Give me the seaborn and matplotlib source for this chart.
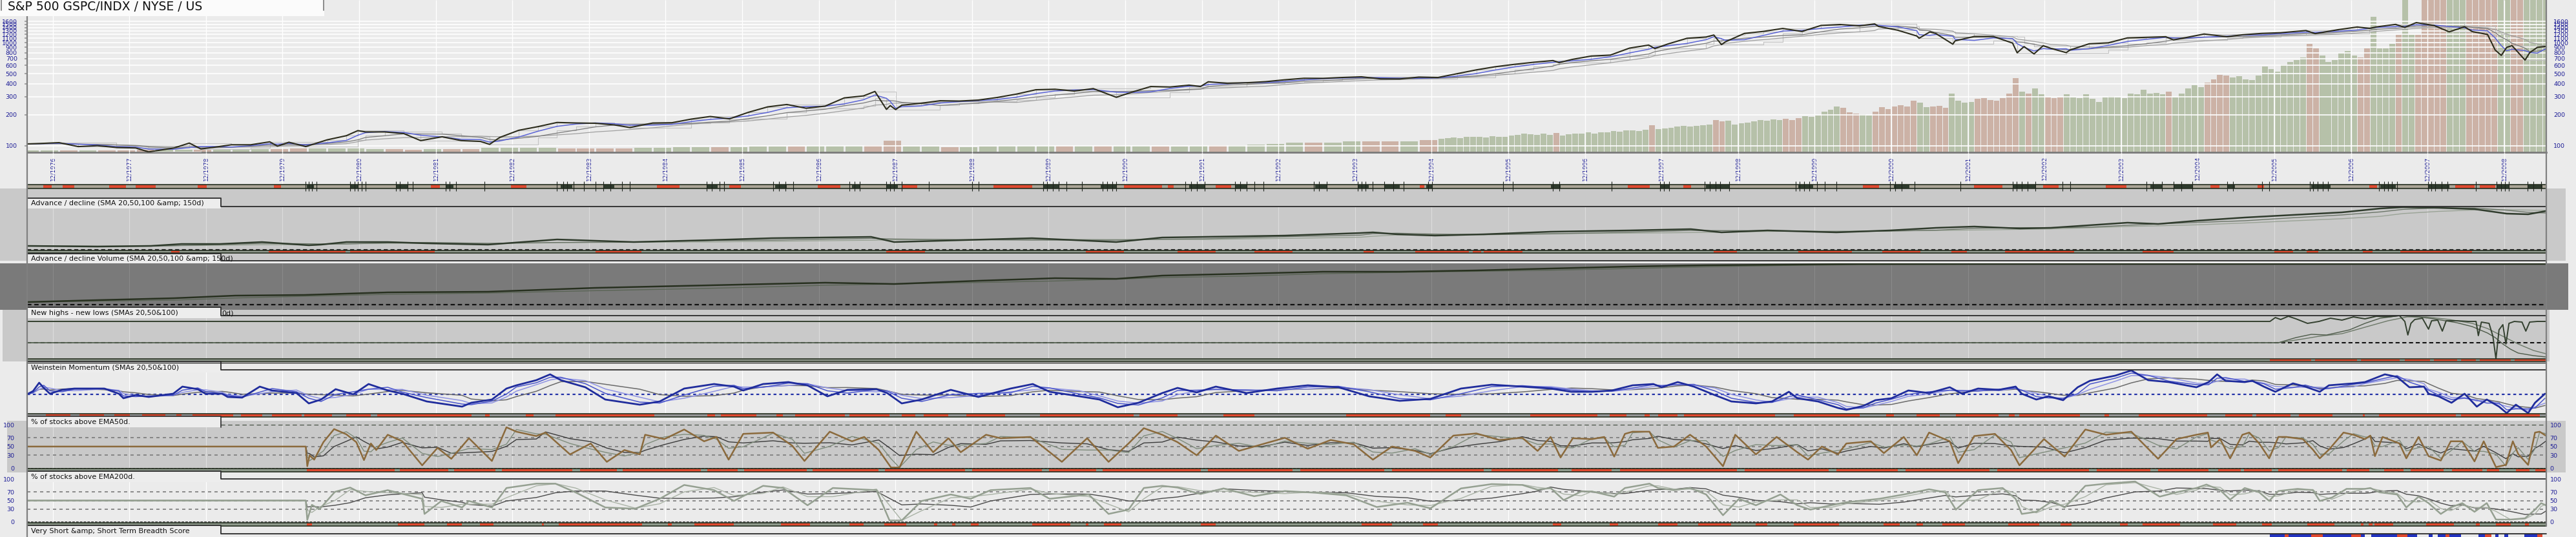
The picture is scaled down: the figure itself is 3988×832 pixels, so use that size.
import numpy as np
import pandas as pd
import matplotlib
matplotlib.use("Agg")
import matplotlib.pyplot as plt
import seaborn as sns
from matplotlib.patches import Rectangle
from matplotlib.lines import Line2D
from matplotlib.ticker import FixedLocator, FixedFormatter, NullLocator

sns.set_theme(style="white")
plt.rcParams["font.family"] = ["DejaVu Sans"]

# ---------------- data ----------------
title = "S&P 500 GSPC/INDX / NYSE / US"
lbl_ad = "Advance / decline (SMA 20,50,100 &amp; 150d)"
lbl_adv = "Advance / decline Volume (SMA 20,50,100 &amp; 150d)"
lbl_nh = "New highs - new lows (SMAs 20,50&100)"
lbl_wm = "Weinstein Momentum (SMAs 20,50&100)"
lbl_e50 = "% of stocks above EMA50d."
lbl_e200 = "% of stocks above EMA200d."
lbl_bs = "Very Short &amp; Short Term Breadth Score"

x_start, x_end = 1976.583, 2009.467
tick_years = list(range(1976, 2009))
tick_labels = [f"12/{y}" for y in tick_years]
price_ticks = [100, 200, 300, 400, 500, 600, 700, 800, 900, 1000, 1100, 1200, 1300, 1400, 1500, 1600]
pct_ticks = [100, 70, 50, 30, 0]

price_t = [1976.58,1976.75,1977.00,1977.25,1977.50,1977.75,1978.00,1978.17,1978.50,1978.70,1978.85,1979.00,1979.25,1979.50,1979.75,1979.85,1980.00,1980.22,1980.50,1980.75,1980.90,1981.00,1981.25,1981.50,1981.72,1982.00,1982.25,1982.50,1982.62,1982.75,1983.00,1983.25,1983.50,1983.75,1984.00,1984.25,1984.45,1984.75,1985.00,1985.25,1985.50,1985.75,1986.00,1986.25,1986.50,1986.75,1987.00,1987.25,1987.50,1987.65,1987.80,1987.85,1987.92,1988.00,1988.25,1988.50,1988.75,1989.00,1989.25,1989.50,1989.75,1990.00,1990.25,1990.50,1990.80,1991.00,1991.25,1991.50,1991.75,1991.90,1992.00,1992.25,1992.50,1992.75,1993.00,1993.25,1993.50,1993.75,1994.00,1994.25,1994.50,1994.75,1995.00,1995.25,1995.50,1995.75,1996.00,1996.25,1996.50,1996.58,1996.75,1997.00,1997.25,1997.50,1997.75,1997.83,1998.00,1998.25,1998.50,1998.60,1998.70,1998.75,1999.00,1999.25,1999.50,1999.75,2000.00,2000.25,2000.50,2000.70,2000.75,2001.00,2001.25,2001.28,2001.42,2001.50,2001.72,2001.75,2002.00,2002.25,2002.50,2002.56,2002.65,2002.78,2002.90,2003.00,2003.20,2003.25,2003.50,2003.75,2004.00,2004.25,2004.50,2004.60,2004.75,2005.00,2005.30,2005.50,2005.75,2006.00,2006.33,2006.45,2006.75,2007.00,2007.16,2007.25,2007.50,2007.62,2007.77,2008.00,2008.20,2008.40,2008.50,2008.70,2008.80,2008.88,2008.95,2009.02,2009.19,2009.25,2009.35,2009.46]
price_v = [104,105,107,98,100,96,95,87,95,106,93,96,102,102,109,99,108,98,114,125,140,136,136,131,112,122,112,110,103,120,141,153,168,166,165,159,150,166,167,181,192,182,211,238,251,231,242,291,304,336,225,245,224,247,258,273,271,277,294,317,349,353,339,358,295,330,375,371,387,375,417,403,408,418,436,451,450,459,466,445,444,463,459,500,544,584,616,645,670,640,687,741,757,885,947,876,970,1102,1134,1186,957,1017,1229,1286,1373,1283,1469,1499,1455,1520,1436,1320,1160,1103,1270,1224,966,1041,1148,1147,990,797,916,777,935,880,800,848,975,996,1112,1126,1141,1063,1115,1212,1142,1191,1229,1248,1310,1223,1336,1418,1374,1421,1503,1406,1565,1468,1273,1426,1280,1200,848,752,900,935,677,798,900,919]

# volume (billions of shares/day): quarterly from Q3 1976 to Q4 1994, then monthly from Jan 1995
volq_first = 1976.5
volq_v = [0.05,0.05,
          0.05,0.05,0.05,0.05, 0.06,0.06,0.06,0.06, 0.06,0.06,0.07,0.07, 0.08,0.08,0.08,0.09,
          0.07,0.07,0.06,0.07, 0.07,0.07,0.10,0.10, 0.10,0.10,0.09,0.09, 0.09,0.09,0.10,0.10,
          0.11,0.11,0.11,0.12, 0.13,0.13,0.13,0.14, 0.15,0.15,0.16,0.26, 0.13,0.13,0.12,0.12,
          0.13,0.14,0.14,0.15, 0.14,0.14,0.14,0.15, 0.14,0.13,0.13,0.15, 0.16,0.16,0.17,0.19,
          0.21,0.21,0.22,0.24, 0.25,0.24,0.25,0.27]
volm_first = 1995.0
volm_v = [.30,.31,.33,.32,.34,.35,.34,.33,.36,.35,.35,.37,
          .38,.41,.40,.39,.42,.38,.43,.37,.40,.42,.41,.44,
          .42,.45,.44,.47,.46,.49,.48,.47,.50,.60,.52,.53,
          .55,.57,.58,.57,.59,.60,.62,.72,.68,.70,.62,.64,
          .66,.68,.72,.70,.73,.72,.74,.71,.76,.80,.78,.82,
          .90,.95,1.02,.98,.88,.86,.84,.82,.90,1.00,.96,1.02,
          1.05,1.02,1.15,1.10,1.00,1.02,1.03,.98,1.30,1.15,1.10,1.12,
          1.18,1.20,1.16,1.15,1.20,1.30,1.65,1.35,1.30,1.42,1.28,1.22,
          1.20,1.22,1.28,1.22,1.20,1.28,1.18,1.12,1.22,1.25,1.22,1.20,
          1.30,1.28,1.38,1.30,1.32,1.28,1.35,1.22,1.30,1.42,1.48,1.45,
          1.55,1.62,1.72,1.70,1.66,1.68,1.62,1.60,1.70,1.90,1.85,1.78,
          1.95,2.00,2.05,2.10,2.40,2.30,2.15,2.00,2.05,2.20,2.25,2.15,
          2.10,2.30,3.00,2.30,2.30,2.40,2.60,3.60,2.60,2.60,3.50,3.40,
          3.80,3.60,4.00,3.50,3.50,3.80,4.20,3.60,4.50,5.00,4.50,4.00,
          4.50,4.50,5.00,4.50,4.50,4.00]

ad_t = [1976.58,1977.5,1978.2,1978.6,1979.1,1979.65,1980.26,1980.42,1980.75,1981.29,1981.8,1982.6,1983.5,1984.5,1985.5,1986.3,1987.6,1987.9,1988.8,1989.7,1990.8,1991.4,1991.95,1993.0,1993.99,1994.15,1994.47,1994.96,1995.6,1996.47,1997.5,1998.3,1998.7,1999.3,2000.2,2000.9,2001.5,2002.0,2002.6,2003.0,2003.5,2004.0,2004.4,2004.9,2005.53,2006.16,2006.8,2007.3,2007.6,2008.06,2008.53,2008.95,2009.23,2009.46]
ad_v = [6,5,6,9,9,12,7,8,12,12,10,8,16,12,15,18,20,12,15,18,12,19,20,22,26,27,24,22,24,28,30,32,27,30,27,30,34,36,33,34,38,42,40,45,50,54,58,64,66,65,63,56,55,60]

adv_t = [1976.58,1977.5,1978.5,1979.3,1980.2,1981.29,1982.6,1984.0,1985.5,1987.0,1987.9,1989.0,1990.0,1990.8,1991.4,1992.5,1993.5,1994.5,1995.5,1996.47,1997.5,1998.5,1999.5,2000.5,2002.0,2004.0,2007.0,2009.46]
adv_v = [4,7,10,14,15,19,20,26,30,34,32,37,41,40,45,48,51,51,53,56,59,61,62,63,63,63,63,63]

nh_t = [1976.58,2005.86,2005.93,2006.00,2006.10,2006.20,2006.35,2006.50,2006.65,2006.80,2006.95,2007.10,2007.25,2007.40,2007.55,2007.62,2007.66,2007.70,2007.75,2007.85,2007.93,2007.97,2008.05,2008.11,2008.16,2008.30,2008.45,2008.55,2008.58,2008.62,2008.72,2008.77,2008.81,2008.85,2008.90,2008.94,2008.98,2009.05,2009.15,2009.20,2009.25,2009.35,2009.46]
nh_v = [33,33,39,36,41,37,30,33,38,35,40,37,41,40,42,33,12,30,36,38,21,34,35,18,34,34,33,33,11,32,30,10,-25,20,28,-2,30,33,32,18,32,33,33]
nhf_t = [1976.58,2005.97,2006.20,2006.40,2006.60,2006.90,2007.10,2007.30,2007.55,2007.80,2008.00,2008.30,2008.50,2008.70,2008.80,2008.90,2009.00,2009.10,2009.30,2009.46]
nhf_v = [0,0,8,13,12,20,30,38,42,40,37,31,25,15,8,-2,-10,-16,-20,-22]
nhs_t = [1976.58,2005.97,2006.30,2006.50,2006.80,2007.10,2007.40,2007.65,2007.90,2008.20,2008.50,2008.70,2008.90,2009.10,2009.30,2009.46]
nhs_v = [0,0,6,10,14,24,34,40,40,36,30,22,10,-2,-12,-17]

wm_t = [1976.58,1976.66,1976.74,1976.80,1976.88,1977.04,1977.20,1977.59,1977.78,1977.84,1978.00,1978.17,1978.49,1978.61,1978.81,1978.91,1979.13,1979.20,1979.39,1979.62,1979.78,1980.10,1980.26,1980.42,1980.61,1980.84,1981.04,1981.29,
        1981.48,1981.80,1982.26,1982.38,1982.65,1982.84,1982.97,1983.23,1983.41,1983.55,1983.87,1984.13,1984.58,1984.84,1985.16,1985.55,1985.81,1985.93,1986.19,1986.52,1986.77,1987.03,1987.29,1987.67,1987.81,1988.00,1988.26,1988.64,1989.00,1989.42,1989.71,1989.93,1990.32,1990.58,1990.82,1991.09,1991.40,
        1991.60,1991.85,1992.10,1992.50,1992.90,1993.30,1993.70,1994.10,1994.50,1994.90,1995.30,1995.70,1996.10,
        1996.47,1996.74,1997.01,1997.27,1997.54,1997.81,1997.92,1998.13,1998.34,1998.61,1998.83,1999.15,1999.36,1999.58,1999.69,1999.96,2000.22,2000.33,2000.55,2000.71,2000.92,2001.14,2001.41,2001.68,2001.84,2002.05,2002.32,2002.54,2002.62,2002.81,2002.97,2003.16,2003.35,2003.51,2003.84,2004.05,2004.27,2004.54,2004.90,
        2005.06,2005.17,2005.28,2005.53,2005.63,2005.78,2005.93,2006.16,2006.32,2006.51,2006.63,2006.95,2007.10,2007.36,2007.52,2007.68,2007.87,2007.93,2008.06,2008.23,2008.40,2008.56,2008.69,2008.85,2008.95,2009.07,2009.23,2009.32,2009.45]
wm_v = [0,5,18,10,1,7,9,9,1,-6,-1,-4,1,12,8,1,1,-4,-5,12,6,2,-14,-8,8,0,16,6,
        1,-11,-19,-13,-8,9,14,22,31,22,11,-8,-16,-11,9,16,12,6,16,19,14,-3,7,8,2,-14,-8,7,-4,9,16,4,-3,-8,-20,-13,2,
        10,3,12,2,9,14,11,-3,-10,-7,9,15,12,
        9,4,4,6,14,16,11,19,12,-1,-11,-14,-11,4,-6,-11,-21,-24,-18,-9,-6,6,2,11,1,9,7,12,1,-8,-3,-9,11,21,29,37,22,19,11,
        19,31,21,19,21,12,4,17,12,4,14,17,19,31,27,11,12,1,-3,-13,1,-19,-8,-19,-29,-16,-29,-13,1]

e50_t = [1976.58,1980.22,1980.24,1980.27,1980.33,1980.45,1980.59,1980.75,1980.88,1980.98,1981.07,1981.14,1981.29,
         1981.48,1981.74,1981.94,1982.12,1982.35,1982.65,1982.84,1982.97,1983.23,1983.35,1983.67,1983.94,1984.15,1984.38,1984.58,1984.65,1984.90,1985.16,1985.42,1985.58,1985.74,1985.93,1986.32,1986.57,1986.73,1987.06,1987.35,1987.51,1987.70,1987.86,1987.97,1988.19,1988.41,1988.61,1988.77,1989.10,1989.29,1989.68,1990.09,1990.42,1990.70,1990.96,1991.16,1991.40,
         1991.60,1991.85,1992.10,1992.40,1992.70,1993.00,1993.30,1993.60,1993.90,1994.15,1994.40,1994.70,1994.90,1995.20,1995.50,1995.80,1996.10,1996.30,
         1996.47,1996.60,1996.76,1997.01,1997.17,1997.30,1997.44,1997.54,1997.76,1997.87,1998.08,1998.29,1998.50,1998.72,1998.88,1999.15,1999.42,1999.69,1999.83,2000.01,2000.22,2000.33,2000.65,2000.82,2001.08,2001.25,2001.41,2001.68,2001.79,2002.00,2002.27,2002.48,2002.59,2002.91,2003.18,2003.45,2003.72,2004.05,2004.40,2004.64,2004.90,
         2005.05,2005.09,2005.21,2005.34,2005.50,2005.59,2005.72,2005.85,2005.97,2006.07,2006.29,2006.42,2006.51,2006.63,2006.82,2006.95,2007.10,2007.17,2007.23,2007.33,2007.55,2007.64,2007.80,2007.93,2008.09,2008.22,2008.37,2008.53,2008.65,2008.81,2008.94,2009.03,2009.10,2009.23,2009.32,2009.38,2009.46]
e50_v = [50,50,5,30,20,60,90,78,60,19,57,42,77,
         62,7,47,22,69,17,94,84,74,82,32,57,15,42,32,77,67,89,62,72,20,79,82,52,17,84,62,72,42,2,2,84,37,69,37,77,69,72,15,69,15,57,92,77,
         60,30,75,40,55,70,45,65,55,20,50,40,25,75,80,65,70,40,
         72,25,69,67,72,27,79,84,84,47,50,77,50,5,77,32,72,37,20,50,32,57,62,35,72,30,82,62,12,74,79,42,7,67,27,89,77,84,22,67,77,
         82,48,67,23,77,82,57,23,72,72,67,43,23,43,82,77,67,75,28,72,57,23,72,28,18,62,62,16,62,3,8,62,33,8,82,84,75]

e200_t = [1976.58,1980.22,1980.24,1980.30,1980.40,1980.60,1980.80,1981.00,1981.29,
          1981.74,1981.77,1981.99,1982.26,1982.35,1982.65,1982.84,1983.23,1983.48,1983.74,1984.13,1984.52,1984.84,1985.16,1985.55,1985.81,1986.19,1986.45,1986.77,1987.10,1987.67,1987.84,1988.00,1988.26,1988.64,1988.90,1989.16,1989.68,1989.93,1990.44,1990.70,1990.96,1991.16,1991.40,
          1991.60,1991.90,1992.20,1992.60,1993.00,1993.40,1993.80,1994.20,1994.60,1994.90,1995.30,1995.70,1996.10,1996.30,
          1996.47,1996.64,1996.87,1997.01,1997.30,1997.44,1997.76,1997.87,1998.08,1998.29,1998.50,1998.72,1998.93,1999.15,1999.47,1999.69,1999.86,2000.13,2000.33,2000.76,2001.08,2001.41,2001.62,2001.76,2002.05,2002.37,2002.54,2002.62,2002.81,2003.02,2003.18,2003.45,2003.72,2004.10,2004.42,2004.64,2004.90,
          2005.03,2005.21,2005.34,2005.53,2005.72,2005.85,2005.97,2006.22,2006.42,2006.51,2006.67,2006.86,2007.10,2007.17,2007.29,2007.52,2007.64,2007.80,2007.93,2008.09,2008.22,2008.37,2008.53,2008.69,2008.81,2009.00,2009.19,2009.32,2009.40,2009.46]
e200_v = [50,50,5,40,30,70,80,62,74,
          54,19,49,34,49,34,79,89,89,69,34,31,54,86,74,49,84,79,39,79,74,4,4,49,64,54,74,79,54,64,19,29,79,84,
          80,65,78,60,72,68,62,35,45,32,78,88,86,75,
          79,51,71,71,59,79,89,79,74,79,64,16,54,39,64,39,29,39,46,54,64,76,69,29,74,79,54,19,24,49,34,84,89,94,59,69,79,
          87,74,52,79,69,49,72,77,74,49,57,77,77,79,69,64,34,59,44,19,34,44,24,44,6,6,9,29,44,39]

# signal strips (intervals in decimal years)
price_red = [(1976.79,1976.90),(1977.05,1977.20),(1977.65,1977.87),(1978.00,1978.26),(1978.81,1978.93),(1979.80,1979.90),(1981.85,1981.97),(1982.90,1983.10),(1984.80,1985.10),(1985.75,1985.90),(1986.90,1987.20),(1988.00,1988.20),(1989.20,1989.70),(1990.90,1991.40),(1991.47,1991.55),(1992.10,1992.30),(1994.76,1994.82),(1997.48,1997.76),(1998.20,1998.30),(2000.55,2000.76),(2002.00,2002.37),(2002.90,2003.10),(2003.72,2003.99),(2005.08,2005.20),(2005.70,2005.78),(2007.16,2007.26),(2008.28,2008.53),(2008.60,2008.80)]
price_dark = [(1980.23,1980.33),(1980.80,1980.90),(1981.40,1981.55),(1982.05,1982.15),(1983.55,1983.70),(1984.10,1984.25),(1985.45,1985.60),(1986.35,1986.50),(1987.35,1987.45),(1987.80,1987.95),(1989.85,1990.05),(1990.60,1990.80),(1991.75,1991.95),(1992.35,1992.50),(1993.40,1993.55),(1993.95,1994.10),(1994.30,1994.50),(1994.85,1994.93),(1996.47,1996.60),(1997.90,1998.02),(1998.50,1998.80),(1999.70,1999.90),(2000.95,2001.15),(2002.50,2002.80),(2004.30,2004.45),(2004.60,2004.85),(2005.30,2005.40),(2006.40,2006.65),(2007.30,2007.50),(2007.92,2008.20),(2008.82,2008.98),(2009.22,2009.42)]
price_marks = [1980.22,1980.26,1980.30,1980.36,1980.80,1980.86,1980.90,1980.95,1981.00,1981.40,1981.45,1981.55,1981.62,1982.05,1982.10,1982.18,1982.55,1983.50,1983.58,1983.63,1983.72,1983.85,1984.00,1984.10,1984.20,1984.35,1984.45,1985.45,1985.52,1985.62,1985.68,1986.32,1986.40,1986.48,1986.58,1987.32,1987.38,1987.45,1987.80,1987.85,1987.90,1988.00,1988.35,1988.92,1989.00,1989.85,1989.90,1989.97,1990.05,1990.15,1990.35,1990.62,1990.68,1990.75,1990.80,1991.70,1991.78,1991.85,1991.95,1992.35,1992.42,1992.50,1992.60,1992.72,1993.38,1993.45,1993.55,1993.95,1994.00,1994.05,1994.15,1994.30,1994.42,1994.55,1994.87,1994.92,1995.85,1995.98,1996.50,1996.58,1997.27,1997.90,1997.95,1998.02,1998.48,1998.55,1998.62,1998.68,1998.80,1999.67,1999.72,1999.78,1999.85,1999.95,2000.05,2000.20,2000.90,2000.97,2001.05,2001.22,2001.82,2002.50,2002.55,2002.62,2002.70,2002.80,2003.15,2003.25,2004.25,2004.33,2004.45,2004.60,2004.70,2004.85,2005.30,2005.38,2005.76,2005.85,2006.38,2006.42,2006.48,2006.55,2006.62,2007.28,2007.35,2007.40,2007.45,2007.52,2007.92,2007.97,2008.02,2008.10,2008.18,2008.55,2008.82,2008.88,2008.93,2008.98,2009.22,2009.30,2009.40]
ad_red = [(1978.46,1978.57),(1979.74,1980.74),(1980.80,1981.90),(1984.00,1984.60),(1987.80,1988.30),(1990.40,1990.90),(1991.60,1992.10),(1992.60,1993.10),(1994.03,1994.16),(1994.70,1995.40),(1995.45,1995.56),(1995.60,1996.10),(1998.60,1998.90),(1999.70,2000.40),(2000.80,2001.30),(2001.70,2001.90),(2002.40,2003.30),(2004.20,2004.60),(2005.92,2006.16),(2006.34,2006.49),(2007.07,2007.20),(2007.56,2008.50)]
nh_red = [(2005.86,2006.40),(2006.45,2007.00),(2007.05,2007.55),(2007.62,2007.95),(2008.00,2008.30),(2008.35,2008.55),(2008.60,2009.00),(2009.05,2009.46)]
wm_red = [(1976.83,1977.15),(1977.27,1977.59),(1977.72,1977.92),(1978.08,1978.39),(1978.53,1978.60),(1978.74,1979.27),(1979.37,1979.65),(1979.78,1980.17),(1980.20,1980.56),(1980.75,1981.07),(1981.15,1982.38),(1982.56,1982.62),(1983.09,1983.19),(1983.48,1984.77),(1985.46,1985.56),(1985.64,1986.10),(1986.36,1986.45),(1986.61,1987.26),(1987.32,1987.84),(1988.00,1988.18),(1988.29,1988.61),(1988.84,1989.35),(1989.80,1991.03),(1991.10,1991.60),(1992.20,1992.60),(1993.80,1994.90),(1995.10,1995.30),(1996.20,1997.08),(1997.24,1997.46),(1997.70,1997.76),(1997.87,1998.13),(1998.21,1999.40),(1999.64,2000.50),(2000.85,2000.95),(2001.25,2001.55),(2001.76,2002.32),(2002.45,2002.53),(2002.59,2003.38),(2003.70,2003.76),(2004.15,2005.04),(2005.28,2005.63),(2005.68,2006.13),(2006.24,2006.68),(2007.07,2007.10),(2007.28,2008.29),(2008.35,2009.38)]
e50_on = [(1980.23, 2009.467)]
e50_gaps = [(1981.38,1981.45),(1982.08,1982.16),(1982.70,1982.78),(1983.70,1983.80),(1984.28,1984.36),(1985.38,1985.46),(1985.86,1985.94),(1986.76,1986.84),(1987.70,1987.78),(1988.83,1988.92),(1989.83,1989.92),(1990.54,1990.62),(1991.90,1992.00),(1993.10,1993.20),(1994.30,1994.40),(1995.60,1995.70),(1996.57,1996.74),(1997.27,1997.38),(1998.90,1999.00),(2000.10,2000.20),(2001.00,2001.10),(2002.20,2002.30),(2003.50,2003.60),(2004.30,2004.40),(2005.06,2005.18),(2005.48,2005.52),(2005.88,2005.97),(2006.80,2006.86),(2007.16,2007.35),(2007.60,2007.70),(2008.13,2008.24),(2008.63,2008.69),(2008.85,2009.07),(2009.25,2009.32)]
e200_red = [(1980.23,1980.30),(1981.42,1981.77),(1982.06,1982.26),(1982.49,1982.67),(1983.30,1983.33),(1983.52,1984.61),(1984.95,1985.00),(1985.29,1985.81),(1986.42,1986.80),(1987.32,1987.50),(1987.77,1988.06),(1988.42,1988.46),(1988.66,1988.70),(1988.90,1989.00),(1989.70,1990.20),(1990.40,1990.44),(1990.64,1990.87),(1991.90,1992.10),(1994.00,1994.40),(1994.80,1995.00),(1996.50,1996.61),(1997.24,1997.35),(1997.87,1998.13),(1998.40,1998.83),(1999.15,1999.30),(1999.64,2000.23),(2000.82,2001.03),(2001.25,2001.33),(2001.58,2001.88),(2002.44,2002.85),(2003.13,2003.27),(2003.90,2004.00),(2004.20,2004.69),(2005.12,2005.42),(2005.76,2005.88),(2006.35,2006.70),(2007.05,2007.08),(2007.15,2007.20),(2007.22,2007.47),(2007.90,2008.26),(2008.55,2008.60),(2008.81,2009.00),(2009.19,2009.24)]
bs_blue = [(2005.86,2006.05),(2006.10,2006.40),(2006.55,2006.92),(2007.05,2007.10),(2007.18,2007.52),(2007.65,2007.78),(2007.93,2007.98),(2008.05,2008.15),(2008.20,2008.35),(2008.58,2008.67),(2008.80,2008.84),(2008.92,2008.97),(2009.18,2009.35)]
bs_red = [(2006.05,2006.10),(2006.40,2006.55),(2006.92,2007.05),(2007.52,2007.65),(2008.15,2008.20),(2008.67,2008.75),(2009.35,2009.42)]

# ---------------- drawing ----------------
W, H = 3988, 832
BG = "#ebebeb"
BLUE = "#1c1c96"
RED = "#e0492f"
LG = "#c9c9c9"
fig = plt.figure(figsize=(W / 100, H / 100), dpi=100, facecolor=BG)
tick_pos = [y + 11 / 12 for y in tick_years]


def fx(x):
    return x / W


def fy(y):
    return 1 - y / H


def add_ax(x0, y0, x1, y1, fc="none"):
    ax = fig.add_axes([fx(x0), fy(y1), (x1 - x0) / W, (y1 - y0) / H])
    ax.set_facecolor(fc)
    ax.set_xlim(x_start, x_end)
    for s in ax.spines.values():
        s.set_visible(False)
    ax.set_xticks([])
    ax.set_yticks([])
    return ax


def band(x0, y0, x1, y1, color, z=-2):
    fig.add_artist(Rectangle((fx(x0), fy(y1)), (x1 - x0) / W, (y1 - y0) / H,
                             transform=fig.transFigure, facecolor=color, edgecolor="none", zorder=z))


def fline(xs, ys, color, lw, ls="-", z=6):
    fig.add_artist(Line2D([fx(x) for x in xs], [fy(y) for y in ys], transform=fig.transFigure,
                          color=color, lw=lw, ls=ls, zorder=z))


def label_box(y0, y1, text, line_y=None):
    band(42, y0, 342, y1, "#ededed", z=5)
    if line_y is None:
        fline([42, 42, 342, 342], [y1, y0, y0, y1], "#2b2b2b", 1.2)
    else:
        fline([42, 42, 342, 342, 3942], [y1, y0, y0, line_y, line_y], "#2b2b2b", 1.3)
    fig.text(fx(48), fy((y0 + y1) / 2 + 0.5), text, fontsize=8, va="center", ha="left",
             color="#111111", zorder=7)


def vgrid(ax, color, alpha=1.0, lw=0.8):
    ax.vlines(tick_pos, 0, 1, transform=ax.get_xaxis_transform(), colors=color,
              alpha=alpha, lw=lw, zorder=0)


def strip(y0, y1, base, segs, color=RED):
    ax = add_ax(42, y0, 3942, y1, fc=base)
    ax.set_ylim(0, 1)
    if segs:
        ax.broken_barh([(a, b - a) for a, b in segs], (0, 1), facecolors=color, edgecolor="none")
    for s in ("top", "bottom"):
        ax.spines[s].set_visible(True)
        ax.spines[s].set_color("#263022")
        ax.spines[s].set_linewidth(1.2)
    return ax


def sma(v, k):
    return pd.Series(v, dtype=float).rolling(k, min_periods=1).mean().values


def line(ax, t, v, color, lw, z=3, **kw):
    sns.lineplot(x=np.asarray(t, float), y=np.asarray(v, float), ax=ax, color=color,
                 linewidth=lw, estimator=None, sort=False, zorder=z, legend=False, **kw)


# background bands
band(0, 292, 3972, 404, LG)
band(0, 408, 3976, 480, "#7a7a7a")
band(4, 480, 3947, 560, LG)
band(11, 652, 3972, 732, LG)

# ---- main price / volume panel
ax_vol = add_ax(42, 0, 3942, 236, fc=BG)
ax_vol.set_ylim(0, 236 / 70)


def vol_bars(first, step, vals):
    t = [first + step * (i + 0.5) for i in range(len(vals))]
    o = np.interp([x - step / 2 for x in t], price_t, price_v)
    c = np.interp([x + step / 2 for x in t], price_t, price_v)
    cols = ["#ccb2a6" if cc < oo else "#b6c1a9" for oo, cc in zip(o, c)]
    ax_vol.bar(t, vals, width=step * 0.9, color=cols, linewidth=0, zorder=1)


vol_bars(volq_first, 0.25, volq_v)
vol_bars(volm_first, 1 / 12, volm_v)
ax_vol.spines["bottom"].set_visible(True)
ax_vol.spines["bottom"].set_color("#7a7a7a")
ax_vol.spines["bottom"].set_linewidth(2)
ax_vol.set_xticks(tick_pos)
ax_vol.set_xticklabels(tick_labels, rotation=90, fontsize=6.5, color=BLUE)
ax_vol.tick_params(axis="x", length=0, pad=4.5)


def price_axis(side):
    a = ax_vol.twinx()
    a.set_yscale("log")
    a.set_ylim(86.2, 2593)
    a.set_xlim(x_start, x_end)
    for s in a.spines.values():
        s.set_visible(False)
    a.yaxis.set_major_locator(FixedLocator(price_ticks))
    a.yaxis.set_major_formatter(FixedFormatter([str(p) for p in price_ticks]))
    a.yaxis.set_minor_locator(NullLocator())
    if side == "left":
        a.tick_params(axis="y", left=True, right=False, labelleft=True, labelright=False,
                      length=3, color="#9a9a9a", labelsize=6.8, labelcolor=BLUE, pad=8)
    else:
        a.tick_params(axis="y", left=False, right=False, labelleft=False, labelright=True,
                      length=0, labelsize=6.8, labelcolor=BLUE, pad=8)
    return a


ax_p = price_axis("left")
ax_pr = price_axis("right")
for p in price_ticks:
    ax_p.axhline(p, color="white", lw=1.2, zorder=0.5)
ax_p.vlines(tick_pos, 0, 1, transform=ax_p.get_xaxis_transform(), colors="white", lw=1.0, zorder=0.5)
pmax = pd.Series(price_v, dtype=float).rolling(3, min_periods=1).max().values
pmin = pd.Series(price_v, dtype=float).rolling(3, min_periods=1).min().values
ax_p.step(price_t, pmax, where="post", color="#c3c3c3", lw=0.8, zorder=2)
ax_p.step(price_t, pmin, where="post", color="#c3c3c3", lw=0.8, zorder=2)
line(ax_p, price_t, sma(price_v, 10), "#a0a0a0", 0.9)
line(ax_p, price_t, sma(price_v, 6), "#7a7a7a", 0.9)
line(ax_p, price_t, sma(price_v, 3), "#5b64d6", 1.1)
line(ax_p, price_t, price_v, "#2c2c1c", 1.5, z=4)
ax_p.set_ylabel("")

# date-area vertical grid
ax_dates = add_ax(42, 236, 3942, 286)
vgrid(ax_dates, "white", 0.9, 1.0)

# price strip
ax_ps = strip(286, 292, "#aaa496", price_red)
ax_ps.broken_barh([(a, b - a) for a, b in price_dark], (0, 1), facecolors="#2e3a2c", edgecolor="none")
ax_ps.vlines(price_marks, -0.7, 1.8, colors="#1e241c", lw=0.8, clip_on=False, zorder=5)

# ---- Advance / decline
ax_ad = add_ax(42, 320, 3942, 392)
ax_ad.set_ylim(-5, 67)
vgrid(ax_ad, "#dcdcdc", 1.0, 0.8)
ax_ad.axhline(0, color="#222222", ls=(0, (3, 2)), lw=1.5, zorder=2)
line(ax_ad, ad_t, sma(ad_v, 6), "#9aa396", 1.0)
line(ax_ad, ad_t, sma(ad_v, 3), "#6b7568", 1.0)
line(ax_ad, ad_t, ad_v, "#2f3b2c", 1.8, z=4)
ax_ad.set_ylabel("")
strip(387.5, 392, "#929b8f", ad_red)
label_box(307, 323, lbl_ad, 320)

# ---- Advance / decline volume
ax_adv = add_ax(42, 408, 3942, 480)
ax_adv.set_ylim(-8, 64)
vgrid(ax_adv, "#8a8a8a", 1.0, 0.8)
ax_adv.axhline(0, color="#111111", ls=(0, (3, 2)), lw=1.6, zorder=2)
line(ax_adv, adv_t, sma(adv_v, 3), "#5a6455", 1.0)
line(ax_adv, adv_t, adv_v, "#27301f", 1.8, z=4)
ax_adv.set_ylabel("")
label_box(393, 408, lbl_adv, 404)

# ---- New highs - new lows
ax_nh = add_ax(42, 489, 3942, 556)
ax_nh.set_ylim(-25, 42)
vgrid(ax_nh, "#dcdcdc", 1.0, 0.8)
ax_nh.axhline(0, color="#111111", ls=(0, (3, 2)), lw=1.5, zorder=2)
line(ax_nh, nhs_t, nhs_v, "#6c7868", 1.0)
line(ax_nh, nhf_t, nhf_v, "#4d5a49", 1.0)
line(ax_nh, nh_t, nh_v, "#33402f", 1.4, z=4)
ax_nh.set_ylabel("")
strip(556, 560, "#929b8f", nh_red)
fline([42, 3942], [562, 562], "#2b2b2b", 1.0)
label_box(476, 493, lbl_nh, 489)
fig.text(fx(343), fy(485), "0d)", fontsize=8, va="center", ha="left", color="#111111", zorder=7)

# ---- Weinstein momentum
ax_wm = add_ax(42, 573, 3942, 641)
ax_wm.set_ylim(-30, 38)
vgrid(ax_wm, "white", 1.0, 0.8)
ax_wm.axhline(0, color="#2433a8", ls=(0, (2, 2)), lw=1.6, zorder=2)
line(ax_wm, wm_t, sma(wm_v, 5), "#6a6a6a", 1.1)
line(ax_wm, wm_t, sma(wm_v, 3), "#8f93e3", 1.1)
line(ax_wm, wm_t, sma(wm_v, 2), "#4b56cc", 1.1)
line(ax_wm, wm_t, wm_v, "#1f2c9c", 2.0, z=4)
ax_wm.set_ylabel("")
strip(641, 646, "#959595", wm_red)
label_box(560, 577, lbl_wm, 573)


def pct_panel(y0, y1, top_dashed):
    ax = add_ax(42, y0, 3942, y1)
    ax.set_ylim(0, 100)
    vgrid(ax, "#e0e0e0" if top_dashed else "white", 1.0, 0.8)
    for lv in (70, 50, 30):
        ax.axhline(lv, color="#7a7a7a", ls=(0, (3, 3)), lw=1.2, zorder=1)
    if top_dashed:
        ax.axhline(100, color="#3a4438", ls=(0, (3, 2)), lw=1.6, zorder=1)
    ax.axhline(0, color="#2b2b2b", ls=(0, (2, 1)), lw=1.4, zorder=1)
    ax.set_yticks(pct_ticks)
    ax.set_yticklabels([str(p) for p in pct_ticks])
    ax.tick_params(axis="y", left=False, right=False, labelleft=True, labelright=False,
                   length=0, labelsize=6.8, labelcolor=BLUE, pad=14)
    axr = ax.twinx()
    axr.set_ylim(0, 100)
    for s in axr.spines.values():
        s.set_visible(False)
    axr.set_yticks(pct_ticks)
    axr.set_yticklabels([str(p) for p in pct_ticks])
    axr.tick_params(axis="y", left=False, right=False, labelleft=False, labelright=True,
                    length=0, labelsize=6.8, labelcolor=BLUE, pad=4)
    return ax


# ---- % above EMA50
ax_e50 = pct_panel(658, 725.7, True)
line(ax_e50, e50_t, sma(e50_v, 4), "#3b3b3b", 1.0)
line(ax_e50, e50_t, sma(e50_v, 2), "#7f8c7c", 1.0)
line(ax_e50, e50_t, e50_v, "#8b6a3c", 1.8, z=4)
ax_e50.set_ylabel("")
s50 = strip(726, 731, "#8f9a8c", e50_on)
s50.broken_barh([(a, b - a) for a, b in e50_gaps], (0, 1), facecolors="#8f9a8c", edgecolor="none")
label_box(645, 662, lbl_e50, None)

# ---- % above EMA200
ax_e200 = pct_panel(742, 809, False)
line(ax_e200, e200_t, sma(e200_v, 5), "#4a4a4a", 1.0)
line(ax_e200, e200_t, sma(e200_v, 2), "#aab3a6", 1.0)
line(ax_e200, e200_t, e200_v, "#95a091", 1.8, z=4)
ax_e200.set_ylabel("")
strip(810, 815, "#8f9a8c", e200_red)
label_box(730, 747, lbl_e200, 742)

# ---- breadth score
ax_bs = add_ax(42, 827, 3942, 832)
ax_bs.set_ylim(0, 1)
ax_bs.broken_barh([(a, b - a) for a, b in bs_blue], (0, 1), facecolors="#2233c0", edgecolor="none")
ax_bs.broken_barh([(a, b - a) for a, b in bs_red], (0, 1), facecolors=RED, edgecolor="none")
label_box(814, 832, lbl_bs, 827)

# spines / frame
fline([42, 42], [25, 832], "#808080", 1.6)
fline([3942, 3942], [0, 815], "#808080", 1.6)

# title box
band(0, 0, 502, 25, "#fbfbfb", z=8)
fline([2, 2], [0, 16], "#777777", 1.2, z=9)
fline([501, 501], [0, 16], "#777777", 1.2, z=9)
fig.text(fx(12), fy(10), title, fontsize=13.5, va="center", ha="left", color="#111111", zorder=10)

fig.savefig("out.png", dpi=100, facecolor=BG)
